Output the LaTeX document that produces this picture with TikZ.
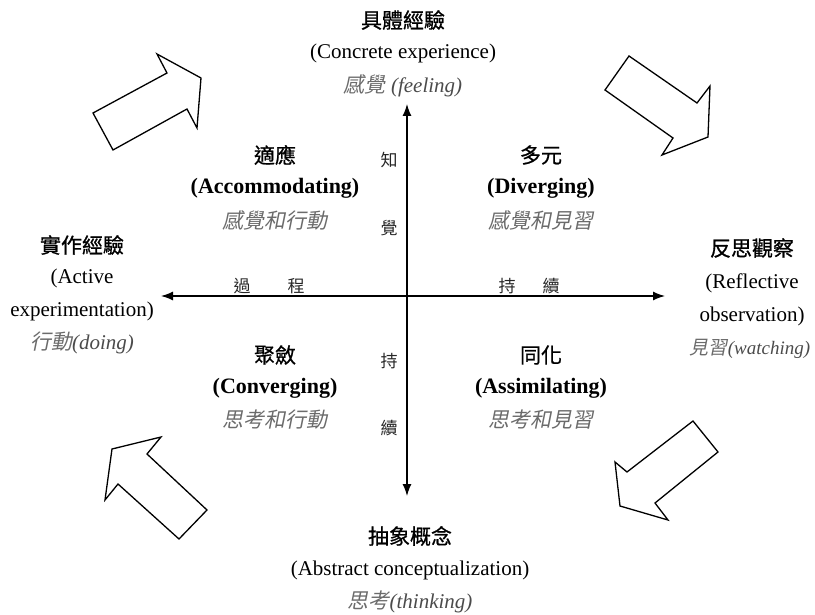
\documentclass[tikz,border=0pt]{standalone}
\usepackage{fontspec}
\setmainfont{Liberation Serif}
\newfontfamily\cjk{Noto Sans CJK TC}[FakeBold=0.8]
\newfontfamily\cjklight{Noto Sans CJK TC}
\newfontfamily\cjkslant{Noto Sans CJK TC}[FakeSlant=0.2]
\usetikzlibrary{arrows.meta}
\definecolor{softgray}{gray}{0.42}
\newcommand{\zh}[1]{{\cjk #1}}
\newcommand{\zhsl}[1]{{\color{softgray}\cjkslant #1}}
\newcommand{\ensl}[1]{{\color{softgray!70!black}\itshape #1}}

\begin{document}
\begin{tikzpicture}[x = 1pt, y = -1pt,
    every node/.style = {inner sep = 0pt, font = \fontsize{21}{25}\selectfont},
    quadname/.style = {font = \fontsize{22}{26}\selectfont\bfseries},
    narrow/.style = {font = \fontsize{19}{23}\selectfont},
    axislabel/.style = {font = \fontsize{17}{20}\selectfont\cjklight, text = black!85},
    axis/.style = {line width = 1.3pt, {Latex[length = 12pt, width = 9pt]}-{Latex[length = 12pt, width = 9pt]}},
    blockarrow/.style = {draw, line width = 1.3pt, line join = miter, fill = white}]
        \useasboundingbox (0,0) rectangle (815,615);
        % axes
        \coordinate (top) at (407,104);
        \coordinate (bottom) at (407,496);
        \coordinate (left) at (161,296);
        \coordinate (right) at (665,296);
        \draw[axis] (left) -- (right);
        \draw[axis] (bottom) -- (top);
        \node[axislabel] (zhi) at (389,160) {知};
        \node[axislabel] (jue) at (389,228) {覺};
        \node[axislabel] (chiv) at (389,361) {持};
        \node[axislabel] (xuv) at (389,428) {續};
        \node[axislabel] (guo) at (242,286) {過};
        \node[axislabel] (cheng) at (296,286) {程};
        \node[axislabel] (chih) at (507,286) {持};
        \node[axislabel] (xuh) at (551,286) {續};
        % four poles
        \node (ce) at (403,20) {\zh{具體經驗}};
        \node (ceen) at (403,53) {(Concrete experience)};
        \node (cesub) at (403,86) {\zhsl{感覺} \ensl{(feeling)}};
        \node (ae) at (82,245) {\zh{實作經驗}};
        \node (aeen) at (82,278) {(Active};
        \node (aeen2) at (82,311) {experimentation)};
        \node (aesub) at (82,343) {\zhsl{行動}\ensl{(doing)}};
        \node (ro) at (752,248) {\zh{反思觀察}};
        \node (roen) at (752,283) {(Reflective};
        \node (roen2) at (752,316) {observation)};
        \node[narrow] (rosub) at (750,349) {\zhsl{見習}\ensl{(watching)}};
        \node (ac) at (410,536) {\zh{抽象概念}};
        \node (acen) at (410,570) {(Abstract conceptualization)};
        \node (acsub) at (410,602) {\zhsl{思考}\ensl{(thinking)}};
        % four styles
        \node (acc) at (275,155) {\zh{適應}};
        \node[quadname] (accen) at (275,188) {(Accommodating)};
        \node (accsub) at (275,220) {\zhsl{感覺和行動}};
        \node (div) at (541,155) {\zh{多元}};
        \node[quadname] (diven) at (541,188) {(Diverging)};
        \node (divsub) at (541,220) {\zhsl{感覺和見習}};
        \node (con) at (275,355) {\zh{聚斂}};
        \node[quadname] (conen) at (275,388) {(Converging)};
        \node (consub) at (275,420) {\zhsl{思考和行動}};
        \node (ass) at (541,355) {\zh{同化}};
        \node[quadname] (assen) at (541,388) {(Assimilating)};
        \node (asssub) at (541,420) {\zhsl{思考和見習}};
        % cycle arrows
        \draw[blockarrow] (93,113) -- (113,150) -- (187,109) -- (197,128) -- (201,78) -- (157,54) -- (167,73) -- cycle;
        \draw[blockarrow] (629,56) -- (605,90) -- (673,138) -- (662,155) -- (708,137) -- (710,86) -- (697,103) -- cycle;
        \draw[blockarrow] (693,421) -- (718,452) -- (655,503) -- (668,520) -- (620,506) -- (615,462) -- (627,472) -- cycle;
        \draw[blockarrow] (207,510) -- (179,539) -- (118,484) -- (105,500) -- (112,449) -- (161,437) -- (147,454) -- cycle;
\end{tikzpicture}
\end{document}
